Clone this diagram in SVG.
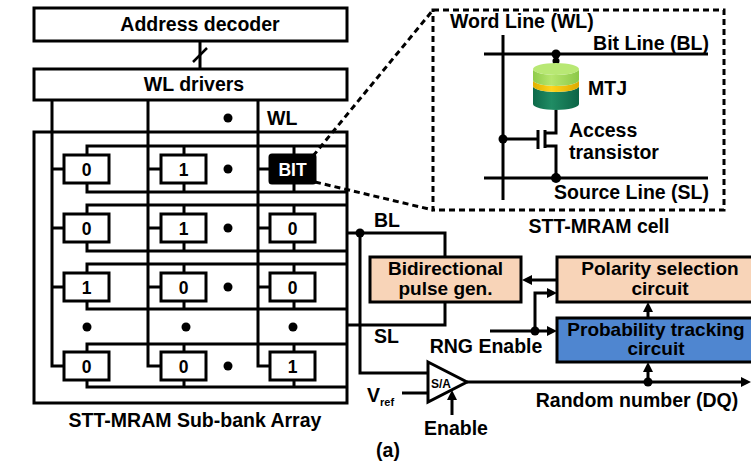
<svg xmlns="http://www.w3.org/2000/svg" width="751" height="465" viewBox="0 0 751 465">
  <style>
    .ln { stroke: #000; stroke-width: 3; fill: none; }
    .box { stroke: #000; stroke-width: 3; fill: #fff; }
    .peach { stroke: #000; stroke-width: 3; fill: #F8D4B8; }
    .blue { stroke: #000; stroke-width: 3; fill: #4F86D0; }
    .dash { stroke: #000; stroke-width: 3; fill: none; stroke-dasharray: 6 4; }
    .t { font-family: "Liberation Sans", Arial, sans-serif; font-weight: bold; font-size: 19.5px; fill: #000; }
    .t2 { font-family: "Liberation Sans", Arial, sans-serif; font-weight: bold; font-size: 19px; fill: #000; text-anchor: middle; }
    .c { text-anchor: middle; }
    .d { font-family: "Liberation Sans", Arial, sans-serif; font-weight: bold; font-size: 17.5px; text-anchor: middle; fill: #000; }
    .dot { fill: #000; }
  </style>
  <defs>
    <marker id="ah" markerUnits="userSpaceOnUse" markerWidth="10" markerHeight="10" refX="4" refY="5" orient="auto">
      <path d="M0,0 L10,5 L0,10 Z" fill="#000"/>
    </marker>
    <linearGradient id="gGreen" x1="0" y1="0" x2="1" y2="0">
      <stop offset="0" stop-color="#8FCB4A"/>
      <stop offset="0.4" stop-color="#B6E66E"/>
      <stop offset="1" stop-color="#8CC848"/>
    </linearGradient>
    <linearGradient id="gYellow" x1="0" y1="0" x2="1" y2="0">
      <stop offset="0" stop-color="#E0B000"/>
      <stop offset="0.4" stop-color="#FFD41C"/>
      <stop offset="1" stop-color="#DDAA00"/>
    </linearGradient>
    <linearGradient id="gTeal" x1="0" y1="0" x2="1" y2="0">
      <stop offset="0" stop-color="#0E6A4A"/>
      <stop offset="0.4" stop-color="#208C64"/>
      <stop offset="1" stop-color="#0C6446"/>
    </linearGradient>
    <g id="cell0"><rect x="-22.5" y="-14" width="45" height="28" class="box"/><text x="0" y="6.5" class="d">0</text></g>
    <g id="cell1"><rect x="-22.5" y="-14" width="45" height="28" class="box"/><text x="0" y="6.5" class="d">1</text></g>
  </defs>

  <!-- peripheral blocks -->
  <g id="address-decoder">
    <rect x="34" y="8" width="313" height="33" class="box"/>
    <text x="200" y="31" class="t c">Address decoder</text>
  </g>
  <g id="wl-drivers">
    <rect x="34" y="69" width="313" height="31" class="box"/>
    <text x="194" y="91" class="t c">WL drivers</text>
  </g>

  <!-- sub-bank array frame, word lines, bit/source lines -->
  <g id="array">
    <path class="ln" d="M34,132 H347 V403 H34 Z"/>
    <!-- word lines -->
    <path class="ln" d="M52,100 V366 H64 M52,169 H64 M52,228 H64 M52,287 H64"/>
    <path class="ln" d="M148,100 V366 H161 M148,169 H161 M148,228 H161 M148,287 H161"/>
    <path class="ln" d="M258,100 V366 H270 M258,169 H270 M258,228 H270 M258,287 H270"/>
    <!-- row rails with cell stubs -->
    <path class="ln" d="M87,155 V146 H347 M184,146 V155 M294,146 V155 M87,183 V192 H347 M184,183 V192 M294,183 V192"/>
    <path class="ln" d="M87,214 V205 H347 M184,205 V214 M294,205 V214 M87,242 V251 H347 M184,242 V251 M294,242 V251"/>
    <path class="ln" d="M87,273 V264 H347 M184,264 V273 M294,264 V273 M87,301 V309 H347 M184,301 V309 M294,301 V309"/>
    <path class="ln" d="M87,352 V344 H347 M184,344 V352 M294,344 V352 M87,380 V387 H347 M184,380 V387 M294,380 V387"/>
    <!-- ellipsis dots -->
    <circle cx="228" cy="118" r="4.5" class="dot"/>
    <circle cx="228" cy="169" r="4.5" class="dot"/>
    <circle cx="228" cy="228" r="4.5" class="dot"/>
    <circle cx="228" cy="287" r="4.5" class="dot"/>
    <circle cx="228" cy="366" r="4.5" class="dot"/>
    <circle cx="87" cy="327" r="4.5" class="dot"/>
    <circle cx="186" cy="327" r="4.5" class="dot"/>
    <circle cx="293" cy="327" r="4.5" class="dot"/>
    <text x="267" y="125" class="t">WL</text>
    <text x="195" y="427" class="t c">STT-MRAM Sub-bank Array</text>
  </g>

  <!-- memory cells -->
  <g id="cell-r1c1"><use href="#cell0" x="86.5" y="169"/></g>
  <g id="cell-r1c2"><use href="#cell1" x="183.5" y="169"/></g>
  <g id="cell-r1c3">
    <rect x="270" y="155" width="45" height="28" rx="2" fill="#000" stroke="#000" stroke-width="3"/>
    <text x="292.5" y="175.5" class="d" style="fill:#fff">BIT</text>
  </g>
  <g id="cell-r2c1"><use href="#cell0" x="86.5" y="228"/></g>
  <g id="cell-r2c2"><use href="#cell1" x="183.5" y="228"/></g>
  <g id="cell-r2c3"><use href="#cell0" x="292.5" y="228"/></g>
  <g id="cell-r3c1"><use href="#cell1" x="86.5" y="287"/></g>
  <g id="cell-r3c2"><use href="#cell0" x="183.5" y="287"/></g>
  <g id="cell-r3c3"><use href="#cell0" x="292.5" y="287"/></g>
  <g id="cell-r4c1"><use href="#cell0" x="86.5" y="366"/></g>
  <g id="cell-r4c2"><use href="#cell0" x="183.5" y="366"/></g>
  <g id="cell-r4c3"><use href="#cell1" x="292.5" y="366"/></g>

  <!-- zoomed cell schematic -->
  <g id="cell-detail">
    <rect x="433" y="10" width="291" height="200" class="dash"/>
    <line x1="503" y1="35" x2="503" y2="200" class="ln"/>
    <line x1="484" y1="54" x2="708" y2="54" class="ln"/>
    <line x1="484" y1="178" x2="708" y2="178" class="ln"/>
    <line x1="556" y1="54" x2="556" y2="66" class="ln"/>
    <circle cx="556" cy="54" r="4.5" class="dot"/>
    <circle cx="556" cy="61" r="3.5" class="dot"/>
    <!-- MTJ stack -->
    <path d="M533,86 A23,6 0 0 0 579,86 L579,104 A23,6 0 0 1 533,104 Z" fill="url(#gTeal)"/>
    <path d="M533,80 A23,6 0 0 0 579,80 L579,86 A23,6 0 0 1 533,86 Z" fill="url(#gYellow)"/>
    <path d="M533,69 A23,6 0 0 0 579,69 L579,80 A23,6 0 0 1 533,80 Z" fill="url(#gGreen)"/>
    <ellipse cx="556" cy="69" rx="23" ry="6" fill="#B8E874"/>
    <!-- access transistor -->
    <path class="ln" d="M556,110 V133 H545 M545,130 V148 M545,146 H556 V178"/>
    <line x1="538" y1="130" x2="538" y2="149" class="ln"/>
    <line x1="503" y1="139" x2="538" y2="139" class="ln"/>
    <circle cx="503" cy="139" r="4.5" class="dot"/>
    <circle cx="556" cy="178" r="5" class="dot"/>
    <text x="450" y="28" class="t">Word Line (WL)</text>
    <text x="709" y="50" class="t" text-anchor="end">Bit Line (BL)</text>
    <text x="588" y="95" class="t">MTJ</text>
    <text x="569" y="137" class="t">Access</text>
    <text x="569" y="159" class="t">transistor</text>
    <text x="709" y="199" class="t" text-anchor="end">Source Line (SL)</text>
    <text x="599" y="233" class="t c">STT-MRAM cell</text>
  </g>

  <!-- RNG circuit blocks -->
  <g id="pulse-gen">
    <rect x="370" y="257" width="151" height="45" class="peach"/>
    <text x="445.5" y="275" class="t2">Bidirectional</text>
    <text x="445.5" y="294.5" class="t2">pulse gen.</text>
  </g>
  <g id="polarity-selection">
    <rect x="557" y="257" width="206" height="45" class="peach"/>
    <text x="660" y="275" class="t2">Polarity selection</text>
    <text x="660" y="294.5" class="t2">circuit</text>
  </g>
  <g id="probability-tracking">
    <rect x="557" y="318" width="206" height="44" class="blue"/>
    <text x="656" y="336" class="t2">Probability tracking</text>
    <text x="656" y="355" class="t2">circuit</text>
  </g>
  <g id="sense-amp">
    <path d="M428,362 L467,382 L428,402 Z" class="box"/>
    <text x="441" y="388" font-family="Liberation Sans, Arial, sans-serif" font-weight="bold" font-size="12" text-anchor="middle">S/A</text>
  </g>

  <!-- connectors -->
  <g id="connectors">
    <path class="dash" d="M313,156 L433,10 M315,182 L433,210"/>
    <line x1="200" y1="41" x2="200" y2="69" class="ln"/>
    <line x1="193" y1="62" x2="207" y2="48" stroke="#000" stroke-width="2.5"/>
    <!-- BL / SL to pulse generator -->
    <path class="ln" d="M347,233 H445 V257"/>
    <path class="ln" d="M347,325 H445 V302"/>
    <circle cx="360" cy="233" r="4.5" class="dot"/>
    <path class="ln" d="M360,233 V373 H428"/>
    <line x1="402" y1="393" x2="428" y2="393" class="ln"/>
    <!-- control arrows -->
    <line x1="557" y1="280" x2="528" y2="280" class="ln" marker-end="url(#ah)"/>
    <line x1="490" y1="331" x2="551" y2="331" class="ln" marker-end="url(#ah)"/>
    <path class="ln" d="M535,331 V293 H551" marker-end="url(#ah)"/>
    <circle cx="535" cy="331" r="4.5" class="dot"/>
    <line x1="648" y1="318" x2="648" y2="308" class="ln" marker-end="url(#ah)"/>
    <line x1="467" y1="382" x2="745" y2="382" class="ln" marker-end="url(#ah)"/>
    <line x1="648" y1="382" x2="648" y2="368" class="ln" marker-end="url(#ah)"/>
    <circle cx="648" cy="382" r="4.5" class="dot"/>
    <line x1="452" y1="415" x2="452" y2="396" class="ln" marker-end="url(#ah)"/>
  </g>

  <!-- signal labels -->
  <text x="374" y="227" class="t">BL</text>
  <text x="374" y="343" class="t">SL</text>
  <text x="486" y="353" class="t c">RNG Enable</text>
  <text x="637" y="407" class="t c">Random number (DQ)</text>
  <text x="367" y="402" class="t">V<tspan font-size="11" dy="4">ref</tspan></text>
  <text x="456" y="435" class="t c">Enable</text>
  <text x="388" y="457" class="t c">(a)</text>
</svg>
